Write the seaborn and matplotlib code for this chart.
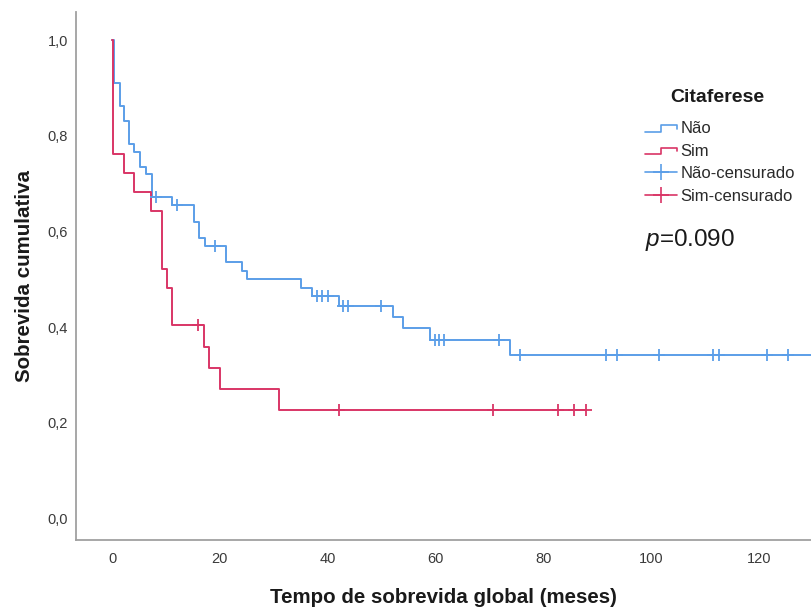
import numpy as np
import pandas as pd
import matplotlib
matplotlib.use("Agg")
import matplotlib.pyplot as plt
from matplotlib.lines import Line2D
from matplotlib.legend_handler import HandlerBase
import seaborn as sns

# Kaplan-Meier curves: step times (months) and cumulative survival
nao_tempos = [0, 0.4, 1.4, 2.3, 3.2, 4.1, 5.2, 6.3, 7.4, 11.2, 15.2, 16.2, 17.2,
              21.1, 24.0, 25.0, 35.0, 37.0, 42.0, 52.0, 53.9, 59.0, 73.7]
nao_sobrevida = [1.0, 0.911, 0.862, 0.831, 0.784, 0.767, 0.736, 0.720, 0.672,
                 0.656, 0.620, 0.587, 0.570, 0.536, 0.517, 0.500, 0.482, 0.465,
                 0.445, 0.422, 0.398, 0.374, 0.342]
nao_censuras = [8.2, 12.1, 19.0, 38.0, 38.9, 40.0, 42.9, 43.8, 49.9, 59.8, 60.7,
                61.6, 71.7, 75.7, 91.6, 93.6, 101.5, 111.5, 112.5, 121.4, 125.4]
nao_fim = 134.0

sim_tempos = [0, 0.2, 2.2, 4.1, 7.2, 9.2, 10.1, 11.2, 17.1, 18.0, 20.1, 31.0]
sim_sobrevida = [1.0, 0.762, 0.722, 0.683, 0.643, 0.522, 0.483, 0.404, 0.359,
                 0.315, 0.270, 0.226]
sim_censuras = [16.0, 42.0, 70.7, 82.7, 85.7, 87.8]
sim_fim = 87.8

grupos = ["Não", "Sim"]
cores = {"Não": "#5b9ee8", "Sim": "#d93566"}
x_ticks = [0, 20, 40, 60, 80, 100, 120]
y_ticks = [0.0, 0.2, 0.4, 0.6, 0.8, 1.0]
valor_p = "0.090"


def curva(tempos, sobrevida, fim, grupo):
    t = list(tempos) + [fim]
    s = list(sobrevida) + [sobrevida[-1]]
    return pd.DataFrame({"tempo": t, "sobrevida": s, "grupo": grupo})


def censuras(tempos, sobrevida, cens, grupo):
    idx = np.searchsorted(np.asarray(tempos), np.asarray(cens), side="right") - 1
    return pd.DataFrame({"tempo": cens, "sobrevida": np.asarray(sobrevida)[idx],
                         "grupo": grupo})


df_curvas = pd.concat([curva(nao_tempos, nao_sobrevida, nao_fim, "Não"),
                       curva(sim_tempos, sim_sobrevida, sim_fim, "Sim")])
df_cens = pd.concat([censuras(nao_tempos, nao_sobrevida, nao_censuras, "Não"),
                     censuras(sim_tempos, sim_sobrevida, sim_censuras, "Sim")])

sns.set_theme(style="white")
plt.rcParams["font.family"] = ["Liberation Sans", "DejaVu Sans"]
plt.rcParams["mathtext.fontset"] = "custom"
plt.rcParams["mathtext.it"] = "Liberation Sans:italic"
plt.rcParams["mathtext.rm"] = "Liberation Sans"

fig = plt.figure(figsize=(8.11, 6.09), dpi=100)
ax = fig.add_axes([0.0943, 0.1141, 0.9057, 0.866])

for g in grupos:
    sub = df_curvas[df_curvas["grupo"] == g]
    sns.lineplot(data=sub, x="tempo", y="sobrevida", color=cores[g],
                 estimator=None, sort=False, drawstyle="steps-post",
                 linewidth=1.4, ax=ax, legend=False)
for g in grupos:
    sub = df_cens[df_cens["grupo"] == g]
    sns.scatterplot(data=sub, x="tempo", y="sobrevida", color=cores[g],
                    marker="+", s=70, linewidth=1.3, ax=ax, legend=False,
                    zorder=4)

ax.set_xlim(-6.6, 129.6)
ax.set_ylim(-0.044, 1.059)
ax.set_xticks(x_ticks)
ax.set_xticklabels([str(v) for v in x_ticks])
ax.set_yticks(y_ticks)
ax.set_yticklabels([f"{v:.1f}".replace(".", ",") for v in y_ticks])
ax.tick_params(axis="both", length=0, labelsize=10.5, labelcolor="#3a3a3a")
ax.tick_params(axis="x", pad=9)
ax.tick_params(axis="y", pad=6)
for lado in ["top", "right"]:
    ax.spines[lado].set_visible(False)
for lado in ["left", "bottom"]:
    ax.spines[lado].set_color("#a0a0a0")
    ax.spines[lado].set_linewidth(1.3)

ax.set_xlabel("Tempo de sobrevida global (meses)", fontsize=14.8,
              fontweight="bold", color="#1a1a1a", labelpad=16)
ax.set_ylabel("Sobrevida cumulativa", fontsize=14.8, fontweight="bold",
              color="#1a1a1a", labelpad=10)


class HandlerDegrau(HandlerBase):
    def create_artists(self, legend, orig_handle, xdescent, ydescent,
                       width, height, fontsize, trans):
        x0, y0 = -xdescent, -ydescent
        xs = [x0, x0 + 0.5 * width, x0 + 0.5 * width, x0 + width, x0 + width]
        ys = [y0 + 0.1 * height, y0 + 0.1 * height, y0 + 0.65 * height,
              y0 + 0.65 * height, y0 + 0.35 * height]
        return [Line2D(xs, ys, color=orig_handle.get_color(), lw=1.2,
                       transform=trans)]


h_nao = Line2D([], [], color=cores["Não"])
h_sim = Line2D([], [], color=cores["Sim"])
h_nao_c = Line2D([], [], color=cores["Não"], marker="+", markersize=12,
                 markeredgewidth=1.2, lw=1.2)
h_sim_c = Line2D([], [], color=cores["Sim"], marker="+", markersize=12,
                 markeredgewidth=1.2, lw=1.2)
leg = ax.legend([h_nao, h_sim, h_nao_c, h_sim_c],
                ["Não", "Sim", "Não-censurado", "Sim-censurado"],
                handler_map={h_nao: HandlerDegrau(), h_sim: HandlerDegrau()},
                frameon=False, fontsize=12,
                loc="upper left", bbox_to_anchor=(0.795, 0.8013),
                bbox_transform=fig.transFigure, borderpad=0, borderaxespad=0,
                handlelength=1.95, handletextpad=0.2, labelspacing=0.45,
                numpoints=1)
for t in leg.get_texts():
    t.set_color("#2a2a2a")

# legend heading
fig.text(0.885, 0.8407, "Citaferese", fontsize=14, fontweight="bold",
         ha="center", va="center", color="#1a1a1a")

fig.text(0.795, 0.606, r"$\mathit{p}$=" + valor_p, fontsize=17.5, ha="left",
         va="center", color="#1a1a1a")

fig.savefig("out.png", dpi=100)
